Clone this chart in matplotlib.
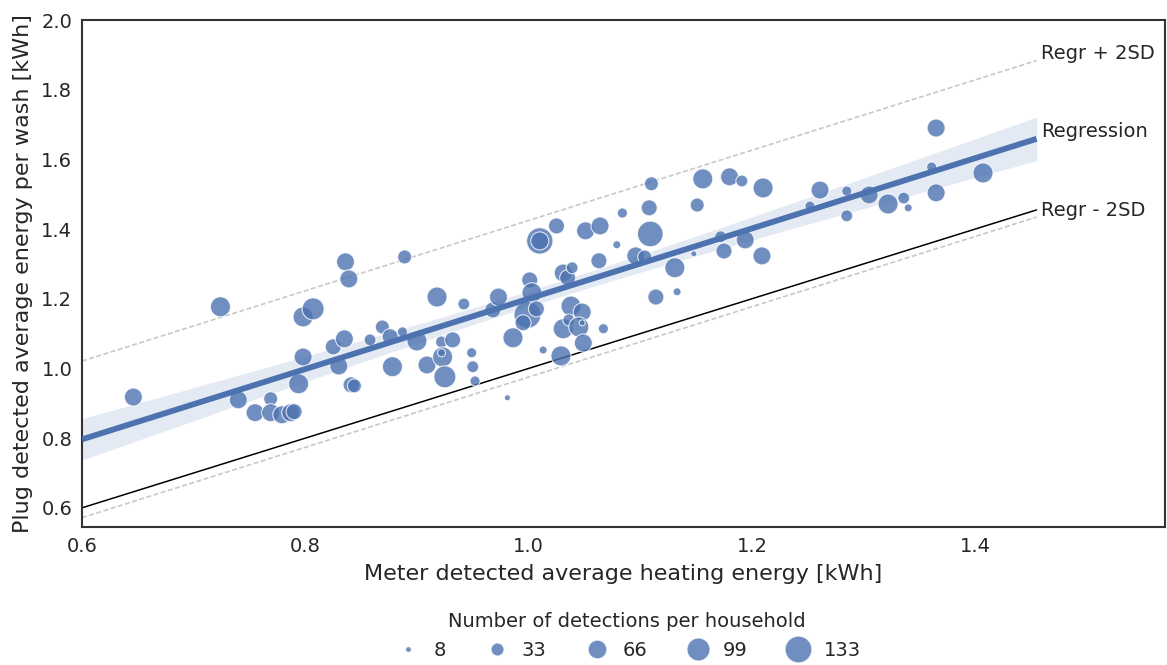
import numpy as np
import matplotlib
matplotlib.use("Agg")
import matplotlib.pyplot as plt
import seaborn as sns
from matplotlib.lines import Line2D

sns.set_style("white")
plt.rcParams['font.family'] = ['DejaVu Sans']

# average heating energy from the meter (x) and from the plug (y), per household
meter_kwh = [
    0.646, 0.724, 0.740, 0.755, 0.769, 0.769, 0.779, 0.787, 0.790, 0.794,
    0.798, 0.798, 0.807, 0.825, 0.835, 0.830, 0.841, 0.844, 0.836, 0.839,
    0.858, 0.869, 0.876, 0.887, 0.889, 0.900, 0.878, 0.909, 0.918, 0.922,
    0.923, 0.922, 0.925, 0.932, 0.942, 0.949, 0.950, 0.952, 0.968, 0.973,
    0.981, 1.001, 1.003, 0.999, 0.995, 1.007, 1.010, 1.010, 1.025, 1.013,
    0.986, 1.031, 1.029, 1.038, 1.048, 1.036, 1.045, 1.048, 1.049, 1.067,
    1.031, 1.035, 1.039, 1.051, 1.064, 1.084, 1.063, 1.079, 1.096, 1.104,
    1.109, 1.108, 1.110, 1.114, 1.131, 1.133, 1.148, 1.151, 1.156, 1.172,
    1.175, 1.180, 1.191, 1.194, 1.209, 1.210, 1.252, 1.261, 1.285, 1.285,
    1.305, 1.322, 1.336, 1.340, 1.361, 1.365, 1.365, 1.407,
]
plug_kwh = [
    0.918, 1.177, 0.910, 0.873, 0.913, 0.873, 0.867, 0.873, 0.876, 0.956,
    1.033, 1.148, 1.171, 1.062, 1.085, 1.007, 0.953, 0.950, 1.306, 1.257,
    1.082, 1.119, 1.091, 1.105, 1.320, 1.079, 1.005, 1.010, 1.205, 1.076,
    1.033, 1.045, 0.976, 1.082, 1.185, 1.045, 1.005, 0.964, 1.168, 1.205,
    0.916, 1.254, 1.217, 1.154, 1.131, 1.171, 1.366, 1.366, 1.409, 1.053,
    1.088, 1.114, 1.036, 1.179, 1.162, 1.139, 1.119, 1.131, 1.073, 1.114,
    1.274, 1.260, 1.289, 1.395, 1.409, 1.446, 1.309, 1.355, 1.323, 1.320,
    1.386, 1.461, 1.530, 1.205, 1.289, 1.220, 1.329, 1.469, 1.544, 1.378,
    1.337, 1.550, 1.538, 1.369, 1.323, 1.518, 1.466, 1.512, 1.509, 1.438,
    1.498, 1.472, 1.489, 1.461, 1.578, 1.690, 1.504, 1.561,
]
n_detections = [
    60, 74, 60, 60, 37, 60, 60, 60, 48, 74,
    60, 74, 89, 48, 60, 60, 48, 37, 60, 60,
    27, 37, 48, 20, 37, 74, 74, 60, 74, 27,
    74, 13, 89, 48, 27, 20, 27, 20, 48, 60,
    8, 48, 74, 133, 48, 48, 127, 60, 48, 13,
    74, 74, 74, 74, 60, 27, 74, 8, 60, 20,
    60, 48, 27, 60, 60, 20, 48, 13, 60, 37,
    120, 48, 37, 48, 74, 13, 8, 37, 74, 27,
    48, 60, 27, 60, 60, 74, 20, 60, 20, 27,
    60, 74, 27, 13, 20, 60, 60, 74,
]
legend_counts = [8, 33, 66, 99, 133]

x = np.array(meter_kwh)
y = np.array(plug_kwh)
cnt = np.array(n_detections)

blue = '#4C72B0'
txt = '#262626'


def marker_area(c):
    # marker area grows linearly with the number of detections
    return 0.5184 * (36 + (np.asarray(c) - 8) * 5.544)


# linear fit, residual spread and 95% confidence band
slope, intercept = np.polyfit(x, y, 1)
resid = y - (slope * x + intercept)
sd = resid.std(ddof=2)
n = len(x)
xx = np.linspace(0.6, 1.455, 200)
yy = slope * xx + intercept
se = sd * np.sqrt(1.0 / n + (xx - x.mean()) ** 2 / ((x - x.mean()) ** 2).sum())
ci = 1.98 * se

fig = plt.figure(figsize=(11.67, 6.65), dpi=100)
ax = fig.add_axes([82 / 1167, 1 - 527 / 665, 1083 / 1167, 507 / 665])

ax.fill_between(xx, yy - ci, yy + ci, color=blue, alpha=0.15, lw=0, zorder=1)
ax.plot(xx, yy, color=blue, lw=4.2, zorder=4, solid_capstyle='butt')
dash = dict(color='#c8c8c8', lw=1.2, ls=(0, (3, 1.5)), zorder=2)
ax.plot(xx, yy + 2 * sd, **dash)
ax.plot(xx, yy - 2 * sd, **dash)
ax.plot(xx, xx, color='black', lw=1.1, zorder=2)

ax.scatter(x, y, s=marker_area(cnt), color=blue, alpha=0.8,
           edgecolor='white', linewidth=0.8, zorder=3)

xe = xx[-1] + 0.004
for lab, ye in [('Regr + 2SD', yy[-1] + 2 * sd), ('Regression', yy[-1]),
                ('Regr - 2SD', yy[-1] - 2 * sd)]:
    ax.text(xe, ye + 0.02, lab, fontsize=14, color=txt, va='center', ha='left')

ax.set_xlim(0.6, 1.57)
ax.set_ylim(0.545, 2.0)
ax.set_xticks([0.6, 0.8, 1.0, 1.2, 1.4])
ax.set_yticks(np.arange(0.6, 2.01, 0.2))
ax.tick_params(labelsize=14, colors=txt, length=0, pad=7)
ax.set_xlabel('Meter detected average heating energy [kWh]', fontsize=16, color=txt,
              labelpad=6)
ax.set_ylabel('Plug detected average energy per wash [kWh]', fontsize=16, color=txt,
              labelpad=6)
for sp in ax.spines.values():
    sp.set_color('#333333')
    sp.set_linewidth(1.5)

handles = [Line2D([], [], ls='', marker='o', markersize=np.sqrt(marker_area(c)),
                  markerfacecolor=blue, markeredgecolor='white', alpha=0.8)
           for c in legend_counts]
leg = ax.legend(handles, [str(c) for c in legend_counts], ncol=5, frameon=False,
                loc='upper center', bbox_to_anchor=(0.503, -0.168),
                title='Number of detections per household', fontsize=14,
                title_fontsize=14, columnspacing=1.8, handletextpad=0.5,
                handlelength=1.6, borderpad=0.0, borderaxespad=0.0)
leg._legend_box.sep = 7
for t in leg.get_texts():
    t.set_color(txt)
leg.get_title().set_color(txt)

fig.savefig('out.png', dpi=100)
